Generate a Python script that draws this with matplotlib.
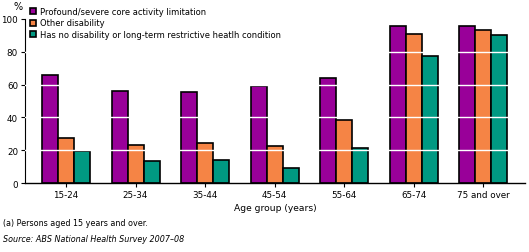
import matplotlib
matplotlib.use('Agg')
import matplotlib.pyplot as plt
import numpy as np

categories = ['15-24', '25-34', '35-44', '45-54', '55-64', '65-74', '75 and over']
profound = [66, 56, 55.5, 59.3, 63.8, 95.5, 95.5]
other = [27.2, 23, 24.2, 22.6, 38.2, 90.9, 93]
no_disability = [19.3, 13.2, 14, 9, 21.3, 77.2, 90.2]
series_names = ['Profound/severe core activity limitation', 'Other disability',
                'Has no disability or long-term restrictive heatlh condition']
colors = ['#990099', '#F58445', '#009982']

plt.rcParams['font.family'] = 'DejaVu Sans'
fig = plt.figure(figsize=(5.29, 2.53), dpi=100)
ax = fig.add_axes([25/529, 1-184/253, 500/529, 164/253])

x = np.arange(len(categories))
w = 0.23
for i, (vals, c, name) in enumerate(zip([profound, other, no_disability], colors, series_names)):
    ax.bar(x + (i - 1) * w, vals, w, color=c, edgecolor='black', linewidth=1.2, label=name, zorder=2)

for g in [20, 40, 60, 80]:
    ax.axhline(g, color='white', linewidth=1.0, zorder=3)

ax.set_xlim(-0.59, 6.6)
ax.set_ylim(0, 100)
ax.set_yticks([0, 20, 40, 60, 80, 100])
ax.set_xticks(x)
ax.set_xticklabels(categories)
ax.tick_params(axis='both', labelsize=6.3, length=3, width=0.8, pad=2)
ax.spines['top'].set_visible(False)
ax.spines['right'].set_visible(False)
ax.spines['left'].set_linewidth(0.8)
ax.spines['bottom'].set_linewidth(1.0)

ax.set_xlabel('Age group (years)', fontsize=6.6, labelpad=3)

leg = ax.legend(loc='upper left', bbox_to_anchor=(30/529, 1-8/253), bbox_transform=fig.transFigure,
                frameon=False, fontsize=6, handlelength=0.7, handleheight=0.7, handletextpad=0.5,
                labelspacing=0.3, borderaxespad=0, borderpad=0)

fig.text(13/529, 1-7/253, '%', fontsize=7, ha='left', va='center')
fig.text(3/529, 1-224/253, '(a) Persons aged 15 years and over.', fontsize=5.8, ha='left', va='center')
fig.text(3/529, 1-240/253, 'Source: ABS National Health Survey 2007\u201308', fontsize=5.8,
         style='italic', ha='left', va='center')

fig.savefig('out.png', dpi=100)
